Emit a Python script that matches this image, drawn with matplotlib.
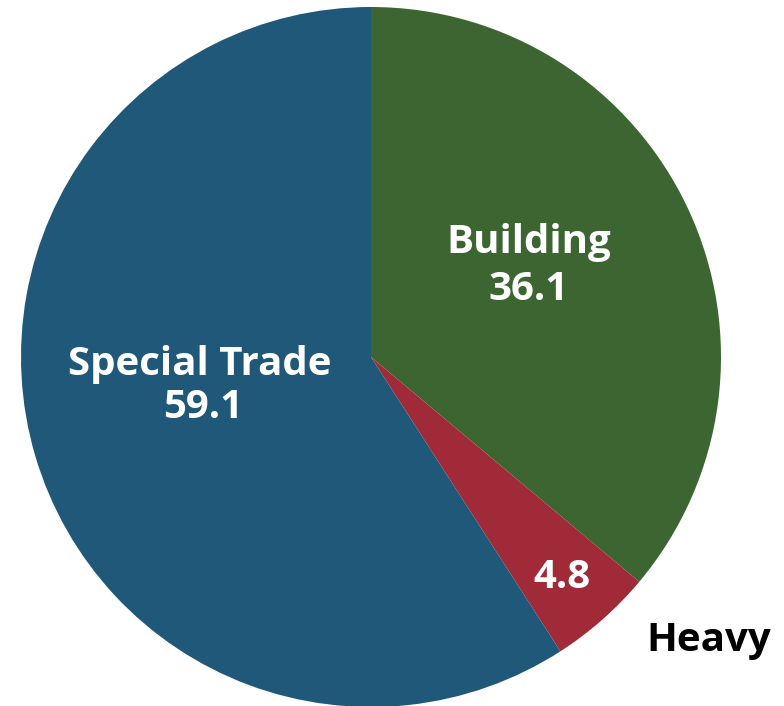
import matplotlib.pyplot as plt

# data
labels = ['Building', 'Heavy', 'Special Trade']
values = [36.1, 4.8, 59.1]
colors = ['#3D6532', '#A02A38', '#1F5878']

plt.rcParams['font.family'] = ['Open Sans', 'DejaVu Sans']

fig = plt.figure(figsize=(7.84, 7.06), dpi=100)
ax = fig.add_axes([0, 0, 1, 1])

# pie centre at pixel (371, 357), radius 350 px
R = 350.0
cx, cy = 371.0, 357.0
ax.pie(values, colors=colors, startangle=90, counterclock=False, radius=1,
       wedgeprops=dict(linewidth=0))
ax.set_xlim(-cx / R, (784 - cx) / R)
ax.set_ylim(-(706 - cy) / R, cy / R)
ax.set_aspect('auto')
ax.axis('off')


def px(x, y):
    return (x - cx) / R, (cy - y) / R


kw = dict(ha='center', va='center', fontsize=29, fontweight='bold')
ax.text(*px(529, 243), labels[0], color='white', **kw)
ax.text(*px(529, 290), f'{values[0]:.1f}', color='white', **kw)
ax.text(*px(200, 365), labels[2], color='white', **kw)
ax.text(*px(203, 408), f'{values[2]:.1f}', color='white', **kw)
ax.text(*px(562, 578), f'{values[1]:.1f}', color='white', **kw)
ax.text(*px(709, 640), labels[1], color='black', **kw)

fig.savefig('out.png', dpi=100)
